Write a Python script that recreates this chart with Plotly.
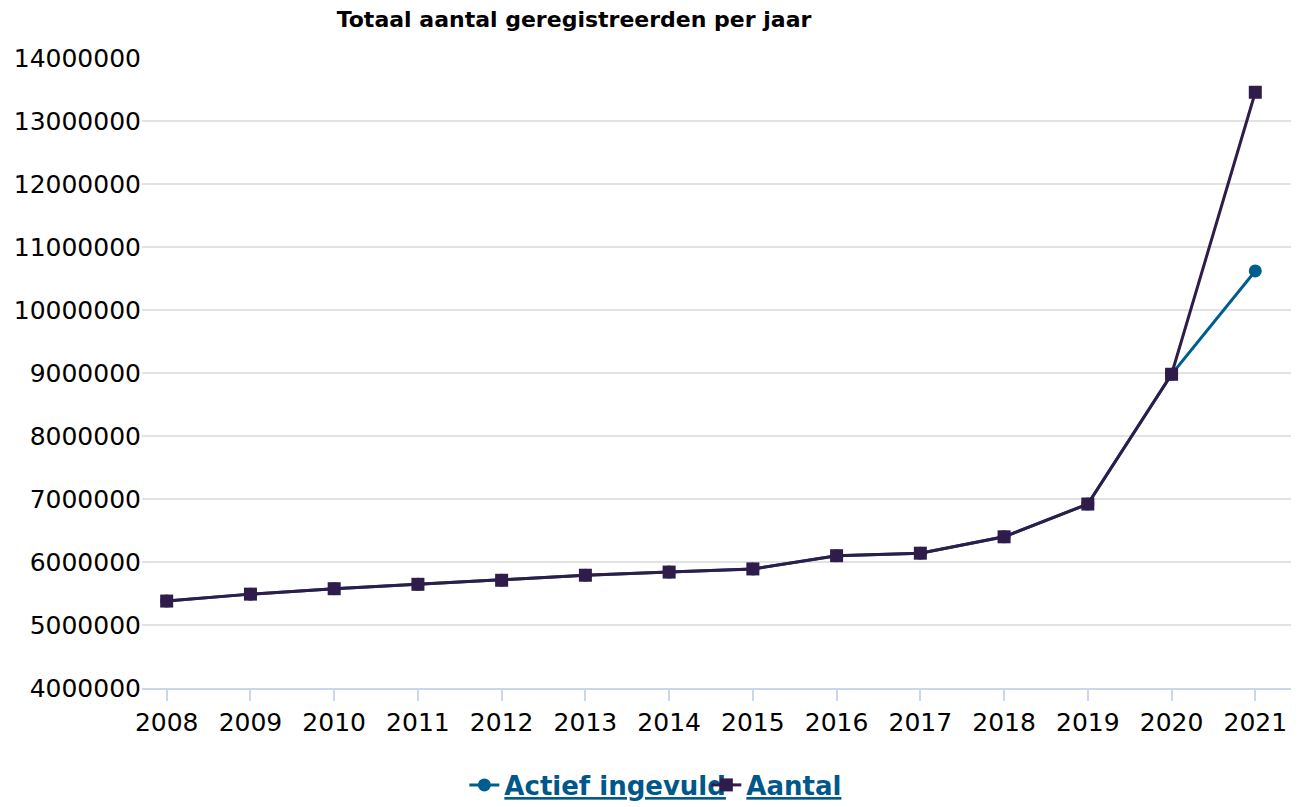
import plotly.graph_objects as go

years = [2008, 2009, 2010, 2011, 2012, 2013, 2014, 2015, 2016, 2017, 2018, 2019, 2020, 2021]
aantal = [5380000, 5490000, 5576000, 5646000, 5710000, 5790000, 5840000, 5890000,
          6100000, 6140000, 6400000, 6920000, 8980000, 13456000]
actief = [5380000, 5490000, 5576000, 5646000, 5710000, 5790000, 5840000, 5890000,
          6100000, 6140000, 6400000, 6920000, 8980000, 10620000]
y_ticks = [4000000, 5000000, 6000000, 7000000, 8000000, 9000000, 10000000,
           11000000, 12000000, 13000000, 14000000]

FONT = "Verdana, DejaVu Sans, sans-serif"
C_AANTAL = "#2f1c4a"
C_ACTIEF = "#005e8f"

W, H = 1291, 799  # page has an 8px body margin
PLOT_TOP, PLOT_BOTTOM = 50, 680

fig = go.Figure()
fig.add_trace(go.Scatter(
    x=years, y=actief, mode="lines+markers", name="<u>Actief ingevuld</u>",
    line=dict(color=C_ACTIEF, width=3),
    marker=dict(symbol="circle", size=13, color=C_ACTIEF),
))
fig.add_trace(go.Scatter(
    x=years, y=aantal, mode="lines+markers", name="<u>Aantal</u>",
    line=dict(color=C_AANTAL, width=3),
    marker=dict(symbol="square", size=13, color=C_AANTAL),
))

fig.update_layout(
    width=W, height=H,
    paper_bgcolor="white", plot_bgcolor="white",
    margin=dict(l=134, r=1, t=PLOT_TOP, b=H - PLOT_BOTTOM, autoexpand=False),
    font=dict(family=FONT, color="#000000"),
    title=dict(text="<b>Totaal aantal geregistreerden per jaar</b>",
               x=566 / W, xanchor="center", y=1 - 4 / H, yanchor="top",
               font=dict(size=22, family=FONT, color="#000000")),
    showlegend=True,
    legend=dict(orientation="h", x=360 / W, xanchor="left",
                y=-(777 - PLOT_BOTTOM) / (PLOT_BOTTOM - PLOT_TOP), yanchor="middle",
                font=dict(size=26, family=FONT, color="#00578a", weight="bold"),
                entrywidth=197, entrywidthmode="pixels", itemwidth=30,
                bgcolor="rgba(0,0,0,0)"),
    hovermode=False,
)

fig.update_xaxes(
    range=[2008 - 0.295, 2021 + 0.51],
    tickmode="array", tickvals=years, ticktext=[str(y) for y in years],
    showgrid=False, zeroline=False,
    showline=True, linecolor="#ccd6eb", linewidth=1.5,
    ticks="outside", ticklen=11, tickcolor="#ccd6eb", tickwidth=1.5,
    tickfont=dict(size=25, family=FONT, color="#000000"),
)
fig.update_yaxes(
    range=[4000000, 14000000],
    tickmode="array", tickvals=y_ticks, ticktext=[str(v) for v in y_ticks],
    showgrid=True, gridcolor="#e2e2e2", gridwidth=1.5,
    zeroline=False, showline=False, ticks="",
    tickfont=dict(size=25, family=FONT, color="#000000"),
)

fig.write_html("out.html")
